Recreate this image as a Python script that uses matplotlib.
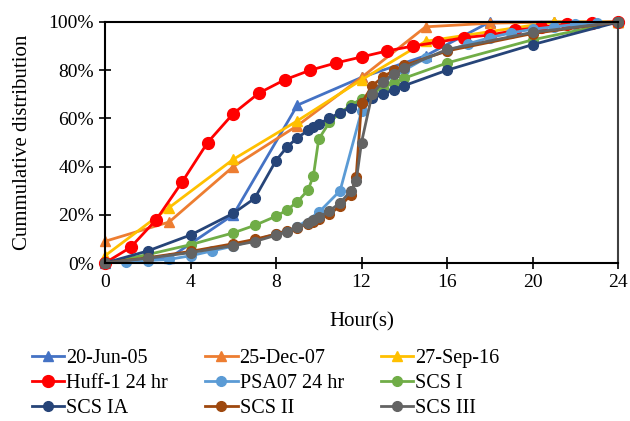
import matplotlib
matplotlib.use("Agg")
import matplotlib.pyplot as plt
from matplotlib.ticker import FuncFormatter

plt.rcParams['font.family'] = ['Liberation Serif', 'DejaVu Serif']

# ---- data (hours, cumulative %) ----
jun05_x = [0, 3, 6, 9, 12, 15, 18, 21, 24]
jun05_y = [0, 2, 20, 65.5, 77, 86, 100, 100, 100]

dec07_x = [0, 3, 6, 9, 12, 15, 18, 21, 24]
dec07_y = [9, 17, 40, 57, 77, 98, 99.5, 100, 100]

sep16_x = [0, 3, 6, 9, 12, 15, 18, 21, 24]
sep16_y = [3, 23, 43, 59, 76, 92, 96, 100, 100]

huff_x = [0, 1.2, 2.4, 3.6, 4.8, 6, 7.2, 8.4, 9.6, 10.8, 12, 13.2, 14.4, 15.6,
          16.8, 18, 19.2, 20.4, 21.6, 22.8, 24]
huff_y = [0, 6.5, 18, 33.5, 50, 62, 70.5, 76, 80, 83, 85.5, 88, 90, 91.7,
          93.5, 94.6, 96.5, 98, 99, 99.7, 100]

psa_x = [0, 1, 2, 3, 4, 5, 6, 7, 8, 9, 10, 11, 12, 13, 14, 15, 16, 17, 18, 19, 20, 21, 22, 23, 24]
psa_y = [0, 0.5, 1, 1.5, 3, 5, 7, 9.5, 12, 15, 21, 30, 63, 75, 80, 85, 88, 91, 93.5, 95.5, 97, 98, 99, 99.6, 100]

scs_x = [0, 2, 4, 6, 7, 8, 8.5, 9, 9.5, 9.75, 10, 10.5, 11, 11.5, 12, 12.5, 13, 13.5, 14, 16, 20, 24]
scs1_y = [0, 3.5, 7.6, 12.5, 15.6, 19.4, 21.9, 25.4, 30.3, 36.2, 51.5, 58.3, 62.4, 65.4, 68.2,
          70.6, 72.7, 74.8, 76.7, 83.0, 92.6, 100]
scs1a_y = [0, 5.0, 11.6, 20.6, 26.8, 42.5, 48.0, 52.0, 55.0, 56.4, 57.7, 60.1, 62.4, 64.5, 66.4,
           68.3, 70.1, 71.9, 73.6, 80.0, 90.6, 100]

scs23_x = [0, 2, 4, 6, 7, 8, 8.5, 9, 9.5, 9.75, 10, 10.5, 11, 11.5, 11.75, 12, 12.5, 13, 13.5, 14, 16, 20, 24]
scs2_y = [0, 2.2, 4.8, 8.0, 9.8, 12.0, 13.3, 14.7, 16.3, 17.2, 18.1, 20.4, 23.5, 28.3, 35.7, 66.3,
          73.5, 77.2, 79.9, 82.0, 88.0, 95.2, 100]
scs3_y = [0, 2.0, 4.3, 7.2, 8.9, 11.5, 13.0, 14.8, 16.7, 17.8, 18.9, 21.6, 25.0, 29.8, 33.9, 50.0,
          70.2, 75.1, 78.5, 81.1, 88.6, 95.7, 100]

x_ticks = [0, 4, 8, 12, 16, 20, 24]
y_ticks = [0, 20, 40, 60, 80, 100]

series = [
    ("20-Jun-05", jun05_x, jun05_y, "#4472C4", "^", 7.5),
    ("25-Dec-07", dec07_x, dec07_y, "#ED7D31", "^", 7.5),
    ("27-Sep-16", sep16_x, sep16_y, "#FFC000", "^", 7.5),
    ("Huff-1 24 hr", huff_x, huff_y, "#FF0000", "o", 8.5),
    ("PSA07 24 hr", psa_x, psa_y, "#5B9BD5", "o", 7),
    ("SCS I", scs_x, scs1_y, "#70AD47", "o", 7),
    ("SCS IA", scs_x, scs1a_y, "#264478", "o", 7),
    ("SCS II", scs23_x, scs2_y, "#9E480E", "o", 7),
    ("SCS III", scs23_x, scs3_y, "#636363", "o", 7),
]

fig = plt.figure(figsize=(6.3, 4.21), dpi=100)
ax = fig.add_axes([105/630, 1-263/421, (618-105)/630, (263-22)/421])

handles = []
for name, xs, ys, c, m, ms in series:
    h, = ax.plot(xs, ys, color=c, marker=m, markersize=ms, linewidth=2, label=name,
                 clip_on=False)
    handles.append(h)

ax.set_xlim(0, 24)
ax.set_ylim(0, 100)
ax.set_xticks(x_ticks)
ax.set_yticks(y_ticks)
ax.yaxis.set_major_formatter(FuncFormatter(lambda v, p: f"{int(v)}%"))
ax.tick_params(direction='inout', length=8, width=1.2, labelsize=14, pad=4)
for s in ['left', 'bottom', 'top']:
    ax.spines[s].set_color('black')
    ax.spines[s].set_linewidth(1.5)
ax.spines['right'].set_color('#404040')
ax.spines['right'].set_linewidth(1.5)

ax.set_xlabel("Hour(s)", fontsize=15, labelpad=15)
ax.set_ylabel("Cummulative distribution", fontsize=15, labelpad=12)

order = [0, 3, 6, 1, 4, 7, 2, 5, 8]
hs = [handles[i] for i in order]
fig.legend(hs, [h.get_label() for h in hs], loc='upper left',
           bbox_to_anchor=(24/630, 1-341/421), ncol=3,
           frameon=False, fontsize=14.5, handlelength=1.6, handletextpad=0.1,
           columnspacing=1.85, labelspacing=0.3, borderaxespad=0)

fig.savefig("out.png", dpi=100)
